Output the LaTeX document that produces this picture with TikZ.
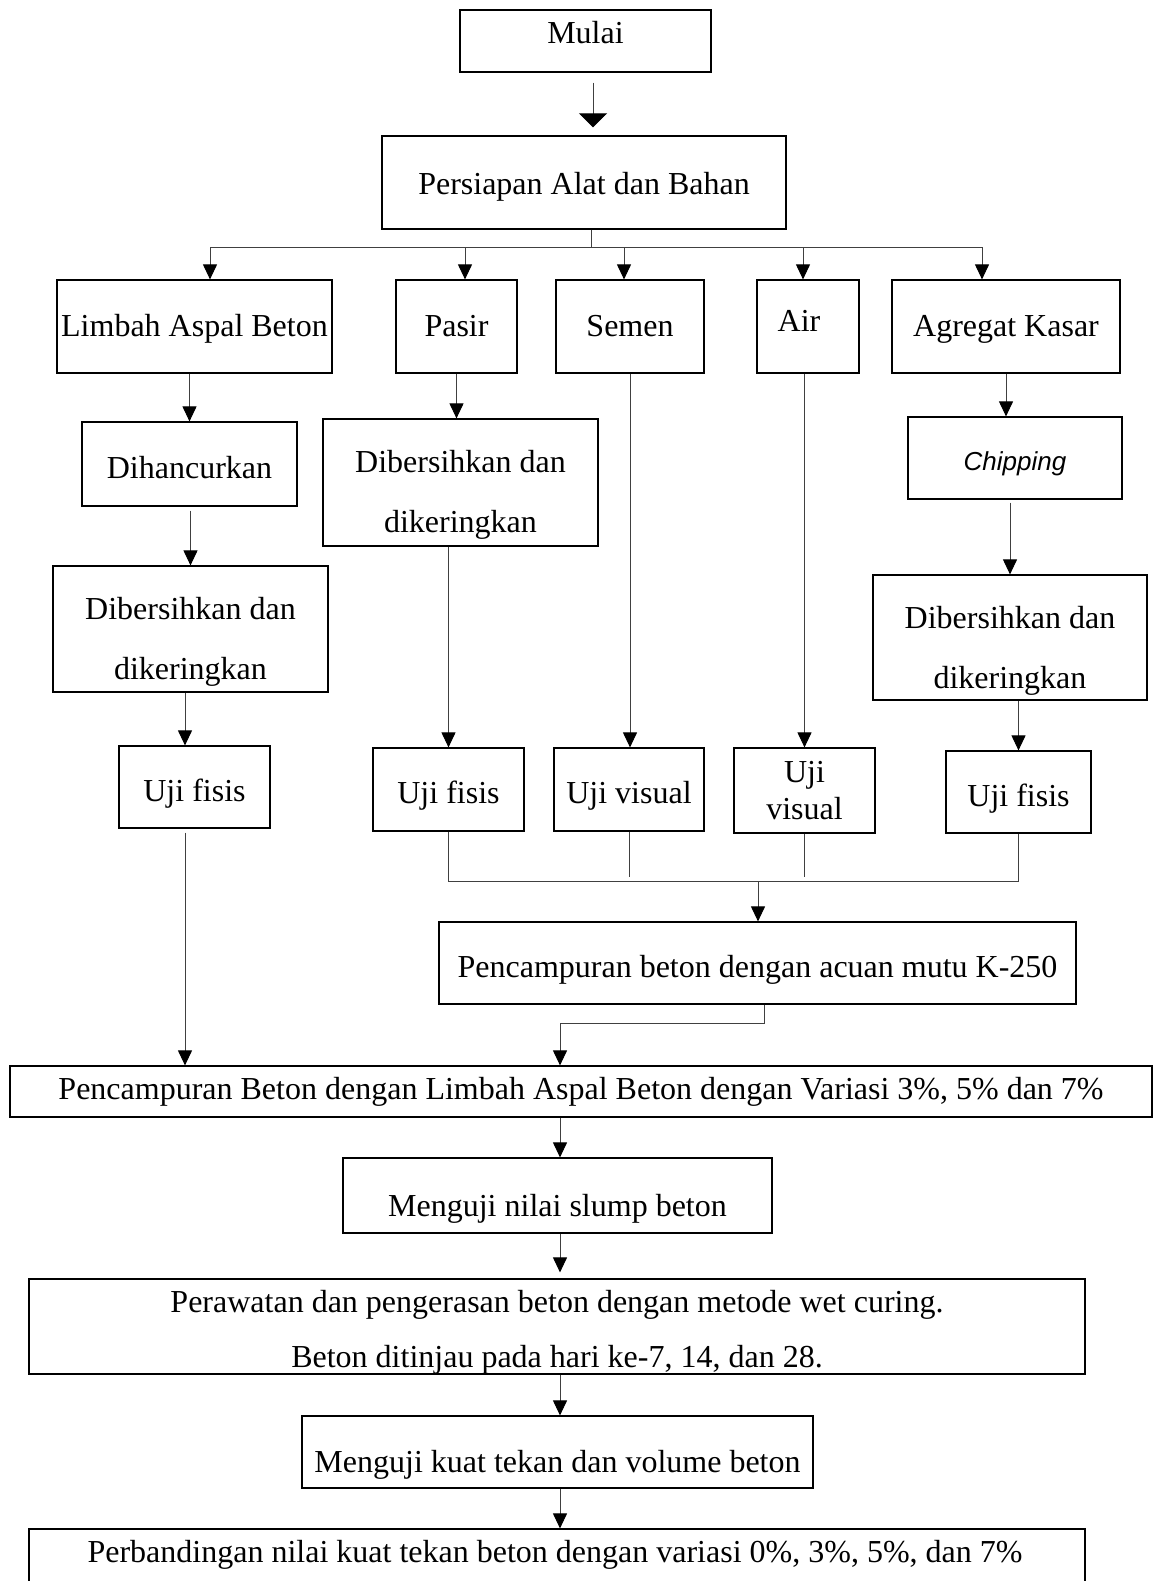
\documentclass[tikz,border=0pt]{standalone}
\usepackage{fontspec}
\setmainfont{Liberation Serif}
\newfontfamily\arialfont{Liberation Sans}
\usetikzlibrary{arrows.meta}

\begin{document}
\begin{tikzpicture}[x=1pt,y=-1pt,
    kotak/.style={draw,line width=1.2pt,inner sep=0pt,align=center,text height=30pt,text depth=2pt,
      font=\fontsize{32}{38}\selectfont},
    tulisan/.style={inner sep=0pt,align=center,font=\fontsize{32}{60}\selectfont},
    garis/.style={black!75,line width=1pt},
    panah/.style={garis,-{Triangle[length=15pt,width=14pt,color=black]}}]
  \useasboundingbox (0,0) rectangle (1153,1581);
  \clip (0,0) rectangle (1153,1581);

  % atas
  \node[kotak,minimum width=251,minimum height=62] (mulai) at (585.5,41) {};
  \node[tulisan] (mulai-t) at (585.5,33) {Mulai};
  \node[kotak,minimum width=404,minimum height=93,text depth=6pt] (persiapan) at (584,182.5) {Persiapan Alat dan Bahan};

  % bahan
  \node[kotak,minimum width=275,minimum height=93,text depth=10pt] (limbah) at (194.5,326.5) {Limbah Aspal Beton};
  \node[kotak,minimum width=121,minimum height=93,text depth=10pt] (pasir) at (456.5,326.5) {Pasir};
  \node[kotak,minimum width=148,minimum height=93,text depth=10pt] (semen) at (630,326.5) {Semen};
  \node[kotak,minimum width=102,minimum height=93] (air) at (808,326.5) {};
  \node[tulisan] (air-t) at (799,321) {Air};
  \node[kotak,minimum width=228,minimum height=93,text depth=10pt] (agregat) at (1006,326.5) {Agregat Kasar};

  % proses
  \node[kotak,minimum width=215,minimum height=84] (dihancurkan) at (189.5,464) {Dihancurkan};
  \node[kotak,minimum width=275,minimum height=126] (bersih1) at (190.5,629) {};
  \node[tulisan] (bersih1-t) at (190.5,642) {Dibersihkan dan\\dikeringkan};
  \node[kotak,minimum width=275,minimum height=127] (bersih2) at (460.5,482.5) {};
  \node[tulisan] (bersih2-t) at (460.5,495) {Dibersihkan dan\\dikeringkan};
  \node[kotak,minimum width=214,minimum height=82,text depth=6pt] (chipping) at (1015,458)
    {\arialfont\itshape\fontsize{26}{30}\selectfont Chipping};
  \node[kotak,minimum width=274,minimum height=125] (bersih3) at (1010,637.5) {};
  \node[tulisan] (bersih3-t) at (1010,651) {Dibersihkan dan\\dikeringkan};

  % uji
  \node[kotak,minimum width=151,minimum height=82] (uji1) at (194.5,787) {Uji fisis};
  \node[kotak,minimum width=151,minimum height=83] (uji2) at (448.5,789.5) {Uji fisis};
  \node[kotak,minimum width=150,minimum height=83] (ujivis1) at (629,789.5) {Uji visual};
  \node[kotak,minimum width=141,minimum height=85] (ujivis2) at (804.5,790.5) {};
  \node[tulisan,font=\fontsize{32}{37}\selectfont] (ujivis2-t) at (804.5,791) {Uji\\visual};
  \node[kotak,minimum width=145,minimum height=82] (uji4) at (1018.5,792) {Uji fisis};

  % pencampuran
  \node[kotak,minimum width=637,minimum height=82] (k250) at (757.5,963) {Pencampuran beton dengan acuan mutu K-250};
  \node[kotak,minimum width=1142,minimum height=51,text height=20pt,text depth=4pt] (campur) at (581,1091.5)
    {Pencampuran Beton dengan Limbah Aspal Beton dengan Variasi 3\%, 5\% dan 7\%};
  \node[kotak,minimum width=429,minimum height=75] (slump) at (557.5,1195.5) {};
  \node[tulisan] (slump-t) at (557.5,1209) {Menguji nilai slump beton};
  \node[kotak,minimum width=1056,minimum height=95] (rawat) at (557,1326.5) {};
  \node[tulisan,font=\fontsize{32}{55}\selectfont] (rawat-t) at (557,1332)
    {Perawatan dan pengerasan beton dengan metode wet curing.\\Beton ditinjau pada hari ke-7, 14, dan 28.};
  \node[kotak,minimum width=511,minimum height=72] (kuat) at (557.5,1452) {};
  \node[tulisan] (kuat-t) at (557.5,1465) {Menguji kuat tekan dan volume beton};
  \node[kotak,minimum width=1056,minimum height=82] (banding) at (557,1570) {};
  \node[tulisan] (banding-t) at (555,1555) {Perbandingan nilai kuat tekan beton dengan variasi 0\%, 3\%, 5\%, dan 7\%};

  % titik bantu
  \coordinate (tengah) at (593,0);
  \coordinate (cabang) at (591,247);
  \coordinate (c1) at (210,247);
  \coordinate (c2) at (465,247);
  \coordinate (c3) at (624,247);
  \coordinate (c4) at (803,247);
  \coordinate (c5) at (982,247);
  \coordinate (kiri) at (185,0);
  \coordinate (kumpul) at (758,881);
  \coordinate (belok) at (560,1023);
  \coordinate (poros) at (560,0);

  % panah
  \draw[panah,shorten <=10pt,shorten >=8pt,-{Triangle[length=14pt,width=28pt,color=black]}]
    (tengah |- mulai.south) -- (tengah |- persiapan.north);
  \draw[garis] (persiapan.south -| cabang) -- (cabang);
  \draw[garis] (c1) -- (c5);
  \draw[panah] (c1) -- (c1 |- limbah.north);
  \draw[panah] (c2) -- (c2 |- pasir.north);
  \draw[panah] (c3) -- (c3 |- semen.north);
  \draw[panah] (c4) -- (c4 |- air.north);
  \draw[panah] (c5) -- (c5 |- agregat.north);

  \draw[panah] (limbah.south -| dihancurkan.north) -- (dihancurkan.north);
  \draw[panah,shorten <=4pt] (dihancurkan.south -| bersih1.north) -- (bersih1.north);
  \draw[panah] (kiri |- bersih1.south) -- (kiri |- uji1.north);
  \draw[panah,shorten <=4pt] (kiri |- uji1.south) -- (kiri |- campur.north);

  \draw[panah] (pasir.south) -- (pasir.south |- bersih2.north);
  \draw[panah] (bersih2.south -| uji2.north) -- (uji2.north);
  \draw[panah] (semen.south) -- (semen.south |- ujivis1.north);
  \draw[panah] (ujivis2.north |- air.south) -- (ujivis2.north);
  \draw[panah] (agregat.south) -- (agregat.south |- chipping.north);
  \draw[panah,shorten <=3pt] (chipping.south -| bersih3.north) -- (bersih3.north);
  \draw[panah] (bersih3.south -| uji4.north) -- (uji4.north);

  \draw[garis] (uji2.south) -- (uji2.south |- kumpul) -- (uji4.south |- kumpul) -- (uji4.south);
  \draw[garis,shorten >=4pt] (ujivis1.south) -- (ujivis1.south |- kumpul);
  \draw[garis,shorten >=4pt] (ujivis2.south) -- (ujivis2.south |- kumpul);
  \draw[panah] (kumpul) -- (kumpul |- k250.north);

  \draw[panah] ([xshift=6.5pt]k250.south) |- (belok) -- (belok |- campur.north);
  \draw[panah] (poros |- campur.south) -- (poros |- slump.north);
  \draw[panah,shorten >=6pt] (poros |- slump.south) -- (poros |- rawat.north);
  \draw[panah] (poros |- rawat.south) -- (poros |- kuat.north);
  \draw[panah] (poros |- kuat.south) -- (poros |- banding.north);
\end{tikzpicture}
\end{document}
